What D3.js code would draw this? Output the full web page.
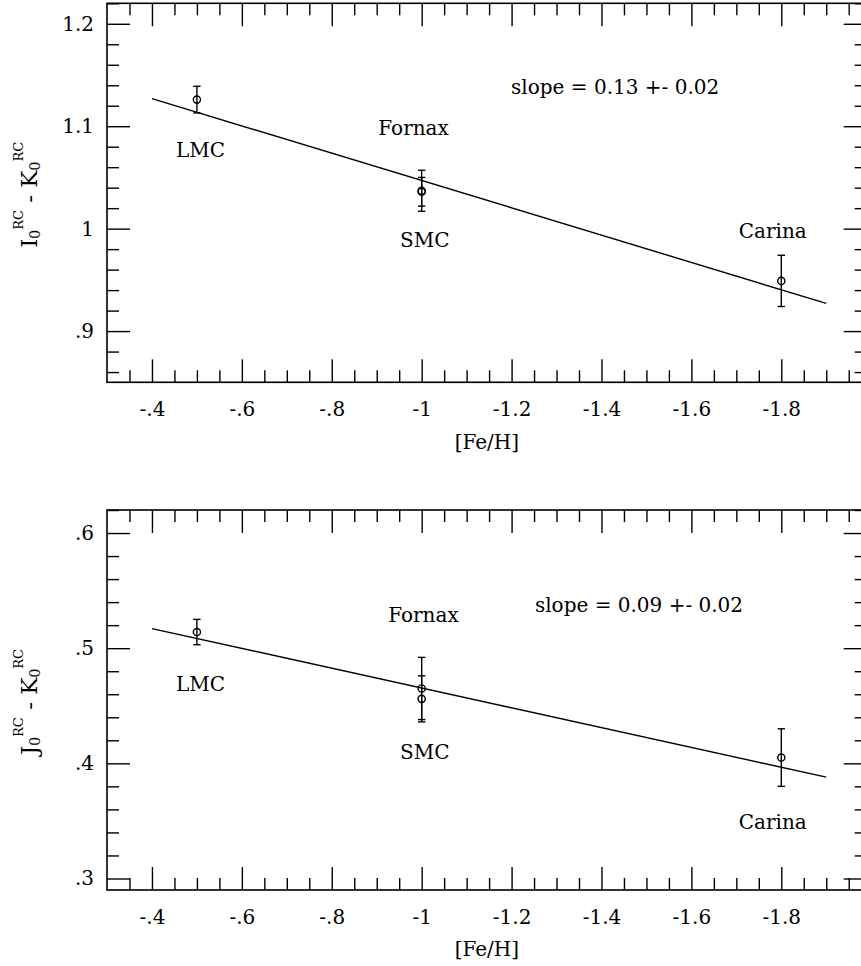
<!DOCTYPE html>
<html><head><meta charset="utf-8">
<script src="https://cdn.jsdelivr.net/npm/d3@7"></script>
<style>
body{margin:0;background:#fff}
svg text{font-family:"DejaVu Serif",serif;fill:#000}
</style>
</head><body><svg id="c" width="861" height="966"></svg>
<script>
// ---- data ----
const galaxies = ["LMC", "Fornax", "SMC", "Carina"];
const feh = [-0.5, -1.0, -1.0, -1.8];
const ikValues = [1.126, 1.037, 1.036, 0.949];
const ikErrors = [0.013, 0.020, 0.014, 0.025];
const jkValues = [0.514, 0.465, 0.456, 0.405];
const jkErrors = [0.011, 0.027, 0.020, 0.025];
const ikFitX = [-0.4, -1.9];
const ikFitY = [1.127, 0.927];
const jkFitX = [-0.4, -1.9];
const jkFitY = [0.517, 0.388];
const xTickValues = [-0.4, -0.6, -0.8, -1.0, -1.2, -1.4, -1.6, -1.8];
const xTickLabels = ["-.4", "-.6", "-.8", "-1", "-1.2", "-1.4", "-1.6", "-1.8"];
const ikTickValues = [0.9, 1.0, 1.1, 1.2];
const ikTickLabels = [".9", "1", "1.1", "1.2"];
const jkTickValues = [0.3, 0.4, 0.5, 0.6];
const jkTickLabels = [".3", ".4", ".5", ".6"];
const ikSlopeText = "slope = 0.13 +- 0.02";
const jkSlopeText = "slope = 0.09 +- 0.02";
const xTitle = "[Fe/H]";

// ---- layout ----
const svg = d3.select("#c");
const FONT = '"DejaVu Serif", serif';
const FS = 20;
const x = d3.scaleLinear().domain([-0.3, -1.99]).range([107, 866.7]);
const xMinor = d3.range(-0.35, -1.99, -0.05).map(v => +v.toFixed(2)).filter(v => !xTickValues.some(t => Math.abs(t - v) < 1e-6));

const panels = [
  { top: 3.3, bottom: 382.3, domain: [0.85, 1.22], values: ikValues, errors: ikErrors,
    fitX: ikFitX, fitY: ikFitY, ticks: ikTickValues, tickLabels: ikTickLabels, minorFrom: 0.86, minorTo: 1.22,
    letter: "I", slope: ikSlopeText, slopePos: [-1.199, 1.1386],
    labelPos: [[-0.508, 1.0768], [-0.982, 1.0983], [-1.007, 0.989], [-1.781, 0.998]] },
  { top: 510, bottom: 890, domain: [0.29, 0.62], values: jkValues, errors: jkErrors,
    fitX: jkFitX, fitY: jkFitY, ticks: jkTickValues, tickLabels: jkTickLabels, minorFrom: 0.30, minorTo: 0.62,
    letter: "J", slope: jkSlopeText, slopePos: [-1.252, 0.5375],
    labelPos: [[-0.508, 0.4695], [-1.004, 0.5288], [-1.007, 0.4101], [-1.781, 0.3493]] }
];

panels.forEach(p => {
  const y = d3.scaleLinear().domain(p.domain).range([p.bottom, p.top]);
  const g = svg.append("g");
  const left = x.range()[0], right = x.range()[1];
  const yMinor = d3.range(p.minorFrom, p.minorTo + 1e-6, 0.02).map(v => +v.toFixed(2))
    .filter(v => !p.ticks.some(t => Math.abs(t - v) < 1e-6));

  function addAxis(axis, tx, ty) {
    const a = g.append("g").attr("transform", `translate(${tx},${ty})`).call(axis);
    a.select(".domain").remove();
    a.attr("font-family", null).attr("font-size", null);
    a.selectAll("line").attr("stroke", "#000").attr("stroke-width", 1.4);
    a.selectAll("text").style("font-family", FONT).attr("font-size", FS).attr("fill", "#000");
    return a;
  }
  // bottom
  addAxis(d3.axisBottom(x).tickValues(xTickValues).tickFormat((d, i) => xTickLabels[i]).tickSizeInner(-23).tickSizeOuter(0).tickPadding(20), 0, p.bottom);
  addAxis(d3.axisBottom(x).tickValues(xMinor).tickFormat("").tickSizeInner(-12).tickSizeOuter(0), 0, p.bottom);
  // top
  addAxis(d3.axisTop(x).tickValues(xTickValues).tickFormat("").tickSizeInner(-23).tickSizeOuter(0), 0, p.top);
  addAxis(d3.axisTop(x).tickValues(xMinor).tickFormat("").tickSizeInner(-12).tickSizeOuter(0), 0, p.top);
  // left
  addAxis(d3.axisLeft(y).tickValues(p.ticks).tickFormat((d, i) => p.tickLabels[i]).tickSizeInner(-23).tickSizeOuter(0).tickPadding(13), left, 0);
  addAxis(d3.axisLeft(y).tickValues(yMinor).tickFormat("").tickSizeInner(-12).tickSizeOuter(0), left, 0);
  // right
  addAxis(d3.axisRight(y).tickValues(p.ticks).tickFormat("").tickSizeInner(-23).tickSizeOuter(0), right, 0);
  addAxis(d3.axisRight(y).tickValues(yMinor).tickFormat("").tickSizeInner(-12).tickSizeOuter(0), right, 0);

  // frame
  g.append("rect").attr("x", left).attr("y", p.top).attr("width", right - left).attr("height", p.bottom - p.top)
    .attr("fill", "none").attr("stroke", "#000").attr("stroke-width", 1.6);

  // fit line
  g.append("line").attr("x1", x(p.fitX[0])).attr("y1", y(p.fitY[0])).attr("x2", x(p.fitX[1])).attr("y2", y(p.fitY[1]))
    .attr("stroke", "#000").attr("stroke-width", 1.4);

  // error bars + points
  const pts = feh.map((f, i) => ({ f, v: p.values[i], e: p.errors[i] }));
  const eb = g.append("g").attr("stroke", "#000").attr("stroke-width", 1.4).attr("fill", "none");
  pts.forEach(d => {
    const cx = x(d.f);
    eb.append("line").attr("x1", cx).attr("x2", cx).attr("y1", y(d.v - d.e)).attr("y2", y(d.v + d.e));
    [d.v - d.e, d.v + d.e].forEach(yy => {
      eb.append("line").attr("x1", cx - 3.7).attr("x2", cx + 3.7).attr("y1", y(yy)).attr("y2", y(yy));
    });
    eb.append("circle").attr("cx", cx).attr("cy", y(d.v)).attr("r", 3.6);
  });

  // galaxy labels
  galaxies.forEach((name, i) => {
    g.append("text").attr("x", x(p.labelPos[i][0])).attr("y", y(p.labelPos[i][1])).attr("dy", "0.36em")
      .attr("text-anchor", "middle").style("font-family", FONT).attr("font-size", FS).text(name);
  });
  g.append("text").attr("x", x(p.slopePos[0])).attr("y", y(p.slopePos[1])).attr("dy", "0.36em")
    .style("font-family", FONT).attr("font-size", FS).text(p.slope);

  // x title
  g.append("text").attr("x", (left + right) / 2).attr("y", p.bottom + 59).attr("dy", "0.36em")
    .attr("text-anchor", "middle").style("font-family", FONT).attr("font-size", FS).text(xTitle);

  // y title (rotated)
  const cy = (p.top + p.bottom) / 2 + 2;
  const t = g.append("text").attr("transform", `translate(37,${cy}) rotate(-90)`).attr("text-anchor", "middle")
    .style("font-family", FONT).attr("font-size", 23);
  t.append("tspan").text(p.letter);
  t.append("tspan").attr("font-size", 14).attr("dy", 3).text("0");
  t.append("tspan").attr("font-size", 13).attr("dy", -17).text("RC");
  t.append("tspan").attr("dy", 14).text(" - K");
  t.append("tspan").attr("font-size", 14).attr("dy", 3).text("0");
  t.append("tspan").attr("font-size", 13).attr("dy", -17).text("RC");
});
</script>
</body></html>
